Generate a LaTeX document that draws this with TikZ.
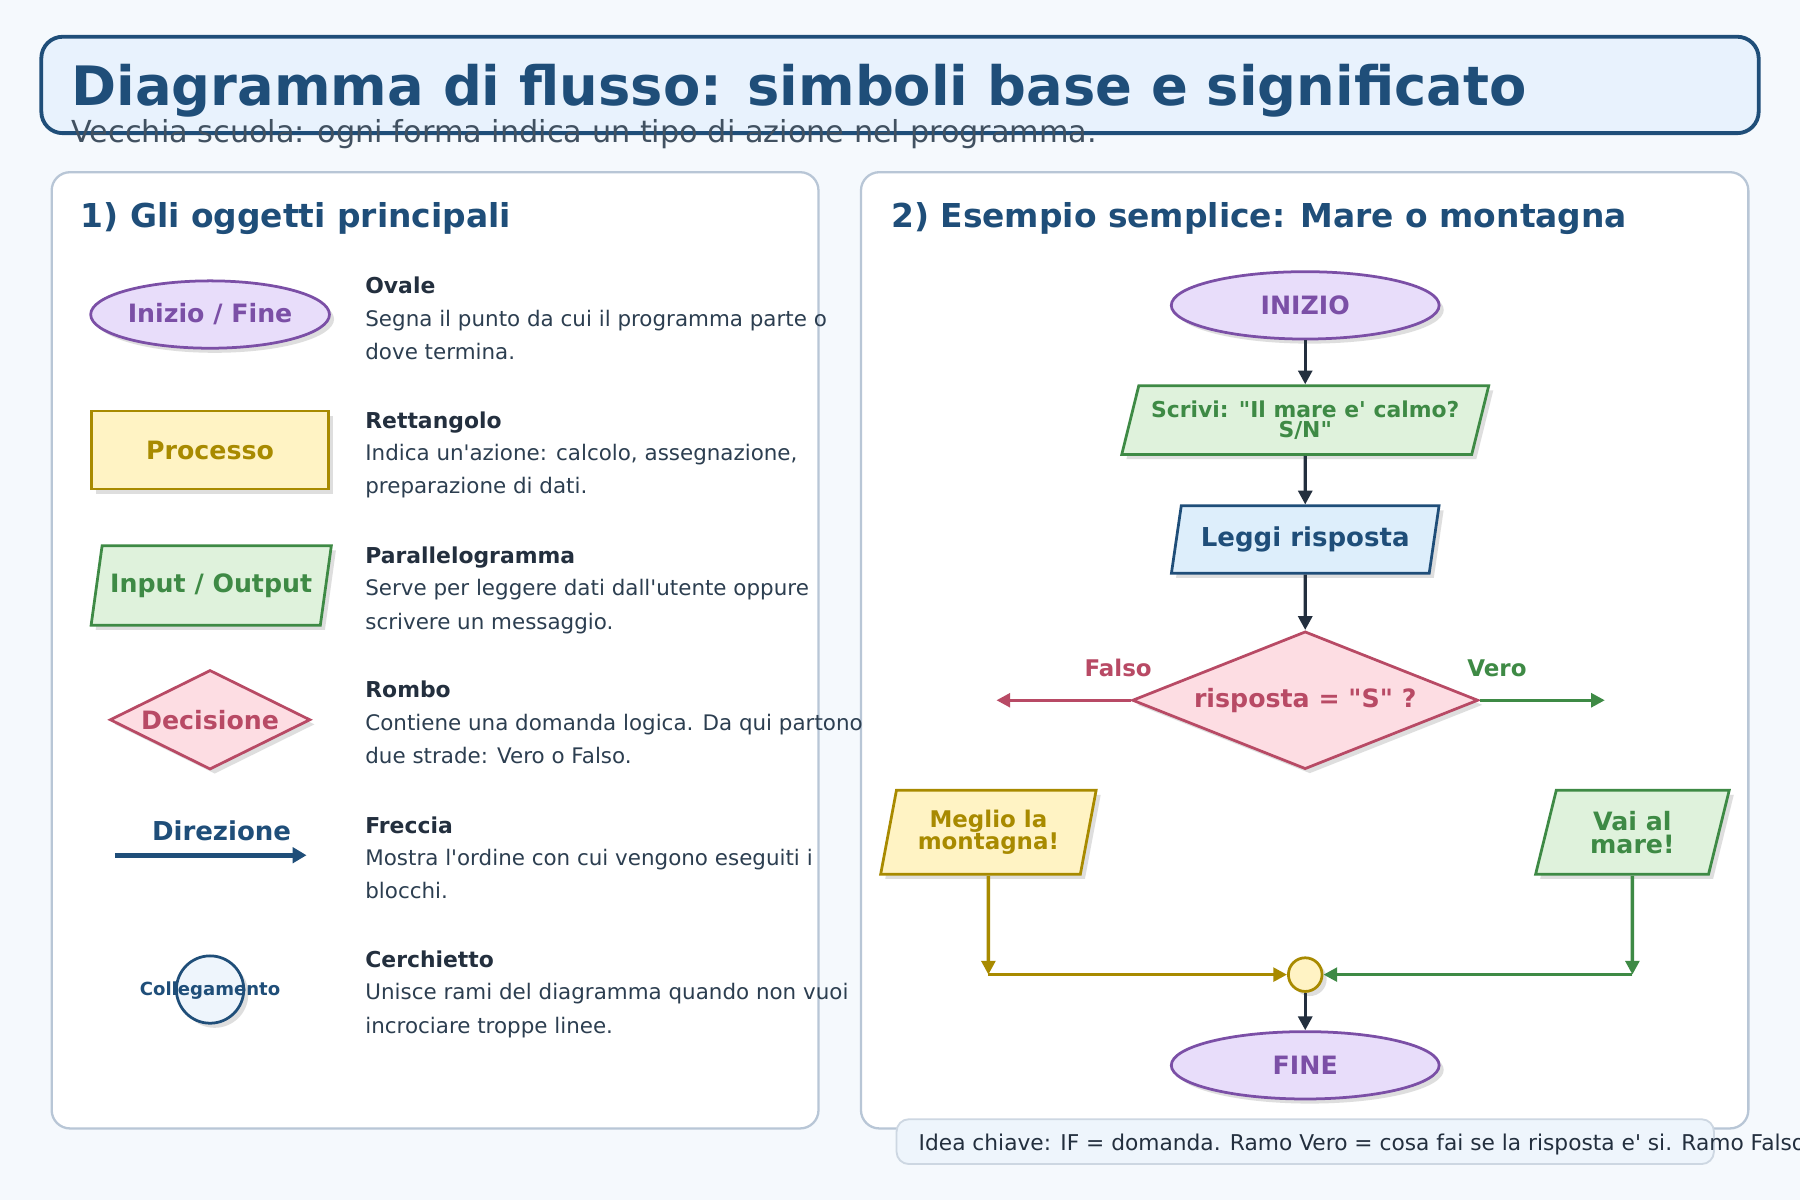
\documentclass[tikz,border=0pt]{standalone}
\usepackage{fontspec}
\setmainfont{DejaVu Sans}
\usetikzlibrary{shapes.geometric,shadows,arrows.meta}
\definecolor{bg}{HTML}{F5F9FD}
\definecolor{navy}{HTML}{1F4E79}
\definecolor{tbf}{HTML}{E8F2FD}
\definecolor{pur}{HTML}{7B4FA6}\definecolor{purf}{HTML}{E8DDFA}
\definecolor{gold}{HTML}{A88A00}\definecolor{goldf}{HTML}{FFF3C4}
\definecolor{grn}{HTML}{3E8A45}\definecolor{grnf}{HTML}{DFF2DC}
\definecolor{red}{HTML}{B84A65}\definecolor{redf}{HTML}{FDDDE3}
\definecolor{bluf}{HTML}{DDEEFB}
\definecolor{dark}{HTML}{232F3E}
\definecolor{txt}{HTML}{2C3E50}
\definecolor{pan}{HTML}{B8C6D6}
\definecolor{cf}{HTML}{EEF5FC}
\newcommand{\fs}[1]{\fontsize{#1pt}{#1pt}\selectfont}
\newcommand{\qq}{\textquotedbl}
\newcommand{\ap}{\textquotesingle}
\newcommand{\dn}[1]{\raisebox{-3pt}{#1}}
\tikzset{
 sh/.style={drop shadow={shadow xshift=3pt,shadow yshift=-3pt,fill=black!25,opacity=0.5}},
 shp/.style={sh,line width=1.8pt,font=\bfseries\fs{16.5},align=center,inner sep=0pt},
 ell/.style={shp,ellipse,draw=pur,fill=purf,text=pur},
 para/.style={shp,trapezium,trapezium left angle=#1,trapezium right angle=180-#1,trapezium stretches=true},
 dia/.style={shp,diamond,draw=red,fill=redf,text=red},
 ar/.style={line width=2.2pt,-{Triangle[length=9pt,width=9pt]}},
 ttl/.style={anchor=base west,inner sep=0pt,font=\bfseries\fs{14.3},text=dark},
 dsc/.style={anchor=base west,inner sep=0pt,font=\fs{14},text=txt},
}
\begin{document}
\begin{tikzpicture}[x=0.75pt,y=-0.75pt]
\useasboundingbox (0,0) rectangle (1568,1045);
\fill[bg] (0,0) rectangle (1568,1045);
% title
\draw[navy,fill=tbf,line width=2.5pt,rounded corners=14pt] (36,32) rectangle (1532,116);
\node (title) [anchor=base west,inner sep=0pt,font=\bfseries\fs{35.5},text=navy] at (62,92) {Diagramma di flusso: simboli base e significato};
\node (sub) [anchor=base west,inner sep=0pt,font=\fs{19.8},text=txt!90] at (62,124) {Vecchia scuola: ogni forma indica un tipo di azione nel programma.};
% panels
\draw[pan,fill=white,line width=1.5pt,rounded corners=12pt] (45,150) rectangle (713,983);
\draw[pan,fill=white,line width=1.5pt,rounded corners=12pt] (750,150) rectangle (1523,983);
\node (h1) [anchor=base west,inner sep=0pt,font=\bfseries\fs{21.5},text=navy] at (70,198) {1) Gli oggetti principali};
\node (h2) [anchor=base west,inner sep=0pt,font=\bfseries\fs{21.5},text=navy] at (776,198) {2) Esempio semplice: Mare o montagna};
% legend shapes
\node (l1) [ell,minimum width=156pt,minimum height=44pt] at (183,274) {\dn{Inizio / Fine}};
\node (l2) [shp,rectangle,draw=gold,fill=goldf,text=gold,minimum width=155pt,minimum height=51pt] at (183,392) {\raisebox{-6pt}{Processo}};
\node (l3) [para=67,draw=grn,fill=grnf,text=grn,minimum width=157pt,minimum height=52pt] at (184,510) {\dn{Input / Output}};
\node (l4) [dia,aspect=2,minimum width=131pt,minimum height=65pt] at (183,627) {\dn{Decisione}};
\node (l5) [font=\bfseries\fs{17},text=navy] at (193,724) {Direzione};
\coordinate (d1) at (100,745); \coordinate (d2) at (267,745);
\draw[navy,line width=3.5pt,-{Triangle[length=9pt,width=10pt]}] (d1) -- (d2);
\node (l6) [sh,circle,draw=navy,fill=cf,line width=1.8pt,minimum size=44pt] at (183,862) {};
\node [font=\bfseries\fs{11.8},text=navy] at (183,863) {Collegamento};
% descriptions
\node [ttl] at (318,256) {Ovale};
\node [dsc] at (318,284) {Segna il punto da cui il programma parte o};
\node [dsc] at (318,313) {dove termina.};
\node [ttl] at (318,373) {Rettangolo};
\node [dsc] at (318,401) {Indica un\ap azione: calcolo, assegnazione,};
\node [dsc] at (318,430) {preparazione di dati.};
\node [ttl] at (318,491) {Parallelogramma};
\node [dsc] at (318,519) {Serve per leggere dati dall\ap utente oppure};
\node [dsc] at (318,548) {scrivere un messaggio.};
\node [ttl] at (318,608) {Rombo};
\node [dsc] at (318,636) {Contiene una domanda logica. Da qui partono};
\node [dsc] at (318,665) {due strade: Vero o Falso.};
\node [ttl] at (318,726) {Freccia};
\node [dsc] at (318,754) {Mostra l\ap ordine con cui vengono eseguiti i};
\node [dsc] at (318,783) {blocchi.};
\node [ttl] at (318,843) {Cerchietto};
\node [dsc] at (318,871) {Unisce rami del diagramma quando non vuoi};
\node [dsc] at (318,900) {incrociare troppe linee.};
% flowchart
\node (ini) [ell,minimum width=175pt,minimum height=44pt] at (1137,266) {\dn{INIZIO}};
\node (scr) [para=68,draw=grn,fill=grnf,text=grn,font=\bfseries\fs{14.3},minimum width=240pt,minimum height=45pt] at (1137,366) {Scrivi: \qq Il mare e\ap\ calmo?\\[-1pt]S/N\qq};
\node (leg) [para=72,draw=navy,fill=bluf,text=navy,font=\bfseries\fs{17},minimum width=175pt,minimum height=44pt] at (1137,470) {\dn{Leggi risposta}};
\node (dec) [dia,aspect=2.5,minimum width=226pt,minimum height=90pt] at (1137,610) {\dn{risposta = \qq S\qq\ ?}};
\node (mon) [para=75,draw=gold,fill=goldf,text=gold,font=\bfseries\fs{15},minimum width=141pt,minimum height=55pt] at (861,725) {Meglio la\\[0pt]montagna!};
\node (mar) [para=75,draw=grn,fill=grnf,text=grn,font=\bfseries\fs{16.5},minimum width=127pt,minimum height=55pt] at (1422,725) {\raisebox{-4pt}{\shortstack{Vai al\\mare!}}};
\node (con) [sh,circle,draw=gold,fill=goldf,line width=1.8pt,minimum size=22pt,inner sep=0pt] at (1137,849) {};
\node (fin) [ell,minimum width=175pt,minimum height=44pt] at (1137,928) {\dn{FINE}};
\draw[ar,dark] (ini) -- (scr);
\draw[ar,dark] (scr) -- (leg);
\draw[ar,dark] (leg) -- (dec);
\draw[ar,dark] (con) -- (fin);
\coordinate (fl) at (868,610); \coordinate (vr) at (1398,610);
\draw[ar,red] (dec.west) -- (fl);
\draw[ar,grn] (dec.east) -- (vr);
\node [font=\bfseries\fs{15},text=red] at (974,582) {Falso};
\node [font=\bfseries\fs{15},text=grn] at (1304,582) {Vero};
\coordinate (mc) at (861,849); \coordinate (vc) at (1422,849);
\draw[ar,gold] (mon.south) -- (mc);
\draw[ar,gold] (mc) -- (con.west);
\draw[ar,grn] (mar.south) -- (vc);
\draw[ar,grn] (vc) -- (con.east);
% note
\draw[pan!70,fill=cf,line width=1.2pt,rounded corners=8pt] (781,975) rectangle (1493,1014);
\node (note) [anchor=base west,inner sep=0pt,font=\fs{14.2},text=dark] at (800,1002) {Idea chiave: IF = domanda. Ramo Vero = cosa fai se la risposta e\ap\ si. Ramo Falso};
\end{tikzpicture}
\end{document}
